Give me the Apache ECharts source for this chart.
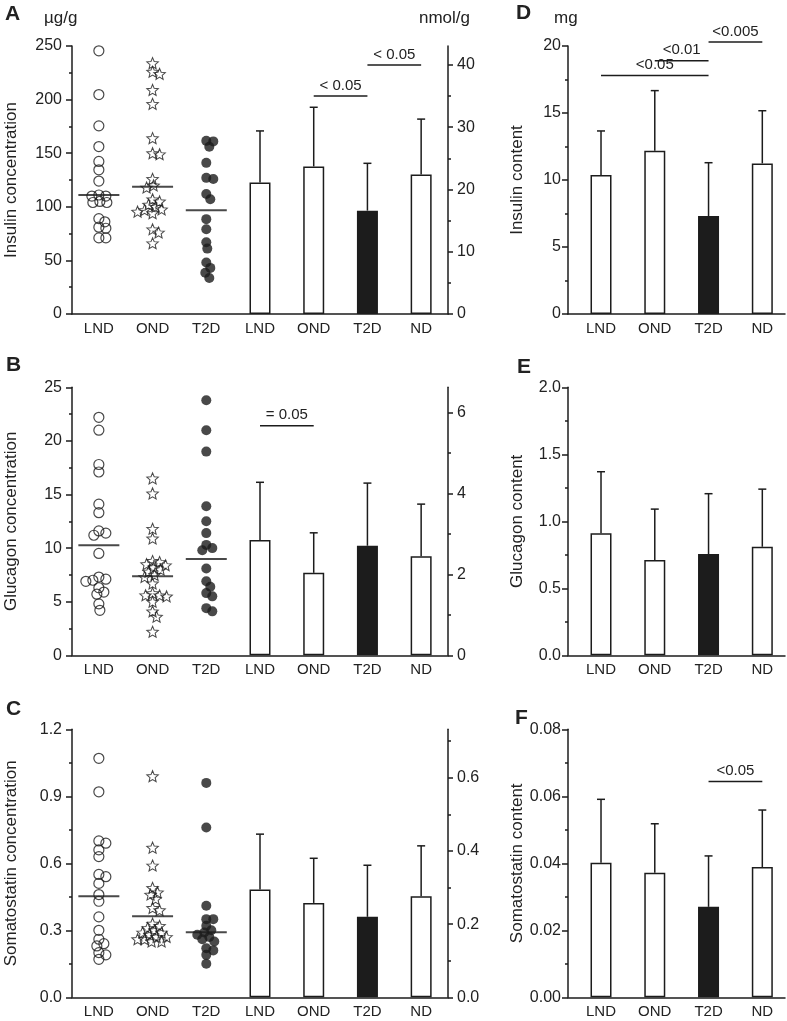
<!DOCTYPE html>
<html><head><meta charset="utf-8">
<script src="https://cdn.jsdelivr.net/npm/echarts@6/dist/echarts.min.js"></script>
<style>html,body{margin:0;padding:0;background:#fff}#c{width:787px;height:1021px}</style>
</head><body><div id="c"></div>
<script>
// ================= DATA =================
const scatterGroups = ['LND', 'OND', 'T2D'];
const barGroups = ['LND', 'OND', 'T2D', 'ND'];

// Panel A: insulin concentration, individual donors (µg/g)
const insConcLND = [245.5, 204.7, 175.5, 156.2, 142.3, 134.5, 124, 111, 110, 110, 105, 104, 104, 89, 86, 81, 80, 71, 71];
const insConcOND = [234, 226, 224, 209, 196, 164, 150, 149, 126, 120, 118, 107, 105, 102, 100, 97.6, 97, 95.5, 94, 79, 76, 66];
const insConcT2D = [161.5, 161, 156, 141, 127, 126, 112, 107, 88.5, 79, 67, 61, 48, 43, 38.5, 33.5];
const insConcLines = [111, 118.8, 96.7];
// Panel A bars (nmol/g): mean and SD
const insConcBarMean = [21.1, 23.7, 16.6, 22.4];
const insConcBarSD = [8.3, 9.5, 7.6, 8.9];
const insConcSig = [[4, 5, 35.0], [5, 6, 40.0]];
const insConcSigText = ['< 0.05', '< 0.05'];
const insConcLeftTicks = [0, 50, 100, 150, 200, 250];
const insConcRightTicks = [0, 10, 20, 30, 40];

// Panel B: glucagon concentration (µg/g)
const gluConcLND = [22.2, 21.0, 17.8, 17.1, 14.1, 13.3, 11.6, 11.4, 11.2, 9.5, 7.3, 7.1, 7.0, 6.9, 6.3, 5.9, 5.7, 4.8, 4.2];
const gluConcOND = [16.5, 15.1, 11.8, 10.9, 8.8, 8.7, 8.5, 8.4, 8.2, 8.0, 7.8, 7.5, 7.3, 6.7, 5.8, 5.6, 5.6, 5.5, 5.0, 4.1, 3.6, 2.2];
const gluConcT2D = [23.8, 21.0, 19.0, 13.9, 12.5, 11.4, 10.3, 10.0, 9.8, 8.1, 6.9, 6.4, 5.8, 5.5, 4.4, 4.1];
const gluConcLines = [10.26, 7.37, 8.99];
const gluConcBarMean = [2.85, 2.04, 2.71, 2.45];
const gluConcBarSD = [1.43, 0.99, 1.55, 1.29];
const gluConcSig = [[3, 4, 5.68]];
const gluConcSigText = ['= 0.05'];
const gluConcLeftTicks = [0, 5, 10, 15, 20, 25];
const gluConcRightTicks = [0, 2, 4, 6];

// Panel C: somatostatin concentration (µg/g)
const somConcLND = [1.07, 0.92, 0.70, 0.69, 0.66, 0.63, 0.55, 0.54, 0.51, 0.46, 0.43, 0.36, 0.30, 0.26, 0.24, 0.23, 0.20, 0.19, 0.17];
const somConcOND = [0.99, 0.67, 0.59, 0.49, 0.47, 0.46, 0.44, 0.40, 0.39, 0.33, 0.32, 0.31, 0.30, 0.29, 0.29, 0.28, 0.27, 0.27, 0.26, 0.26, 0.25, 0.25];
const somConcT2D = [0.96, 0.76, 0.41, 0.35, 0.35, 0.32, 0.30, 0.29, 0.28, 0.27, 0.26, 0.25, 0.22, 0.21, 0.19, 0.15];
const somConcLines = [0.452, 0.363, 0.291];
const somConcBarMean = [0.295, 0.258, 0.220, 0.276];
const somConcBarSD = [0.151, 0.122, 0.141, 0.138];
const somConcLeftTicks = [0, 0.3, 0.6, 0.9, 1.2];
const somConcRightTicks = [0, 0.2, 0.4, 0.6];

// Panel D: insulin content (mg)
const insContMean = [10.37, 12.19, 7.31, 11.24];
const insContSD = [3.29, 4.48, 3.98, 3.93];
const insContSig = [[0, 2, 17.8], [1, 2, 18.9], [2, 3, 20.3]];
const insContSigText = ['<0.05', '<0.01', '<0.005'];
const insContTicks = [0, 5, 10, 15, 20];

// Panel E: glucagon content
const gluContMean = [0.91, 0.711, 0.756, 0.81];
const gluContSD = [0.46, 0.38, 0.45, 0.43];
const gluContTicks = [0, 0.5, 1.0, 1.5, 2.0];

// Panel F: somatostatin content
const somContMean = [0.0402, 0.0372, 0.0270, 0.0389];
const somContSD = [0.0189, 0.0146, 0.0152, 0.0170];
const somContSig = [[2, 3, 0.0644]];
const somContSigText = ['<0.05'];
const somContTicks = [0, 0.02, 0.04, 0.06, 0.08];

// ================= STYLE / LAYOUT =================
const INK = '#1c1c1c';
const TXT = '#222';
const FONT = '"Liberation Sans", Arial, Helvetica, sans-serif';
const PANEL_TOPS = [46, 387.3, 729.3];
const PANEL_H = 268;
const LEFT_X = 72, LEFT_W = 376;
const RIGHT_X = 568, RIGHT_W = 217;
const allCats = scatterGroups.concat(barGroups);
const catKeys = allCats.map((c, i) => i + '_' + c);

function starPath(inner) {
  let d = '';
  for (let i = 0; i < 10; i++) {
    const r = i % 2 === 0 ? 1 : inner;
    const a = -Math.PI / 2 + i * Math.PI / 5;
    d += (i === 0 ? 'M' : 'L') + (r * Math.cos(a)).toFixed(3) + ' ' + (r * Math.sin(a)).toFixed(3) + ' ';
  }
  return 'path://' + d + 'Z';
}
const STAR = starPath(0.45);

// simple beeswarm: horizontal pixel offsets so symbols do not pile up
function swarm(values, pxPerUnit, minDist) {
  const placed = [];
  return values.map(v => {
    const y = v * pxPerUnit;
    for (let k = 0; k < 60; k++) {
      const cands = k === 0 ? [0] : [k, -k];
      for (const dx of cands) {
        if (placed.every(p => (p[0] - dx) * (p[0] - dx) + (p[1] - y) * (p[1] - y) >= minDist * minDist)) {
          placed.push([dx, y]);
          return dx;
        }
      }
    }
    return 0;
  });
}

function errRender(params, api) {
  const x = api.value(0), m = api.value(1), s = api.value(2);
  const a = api.coord([x, m]), b = api.coord([x, m + s]);
  return {
    type: 'group', children: [
      { type: 'line', shape: { x1: a[0], y1: a[1], x2: b[0], y2: b[1] }, style: { stroke: INK, lineWidth: 1.5 } },
      { type: 'line', shape: { x1: b[0] - 4, y1: b[1], x2: b[0] + 4, y2: b[1] }, style: { stroke: INK, lineWidth: 1.5 } }
    ]
  };
}
function sigRenderer(texts) {
  return function (params, api) {
    const y = api.value(2);
    const a = api.coord([api.value(0), y]), b = api.coord([api.value(1), y]);
    return {
      type: 'group', children: [
        { type: 'line', shape: { x1: a[0], y1: a[1], x2: b[0], y2: b[1] }, style: { stroke: INK, lineWidth: 1.5 } },
        { type: 'text', x: (a[0] + b[0]) / 2, y: a[1] - 3,
          style: { text: texts[params.dataIndex], fill: TXT, font: '15px ' + FONT, align: 'center', verticalAlign: 'bottom' } }
      ]
    };
  };
}

const grids = [], xAxes = [], yAxes = [], series = [];

function yAxisBase(gi, max, ticks, fmt, name, gap, margin) {
  return {
    type: 'value', gridIndex: gi, position: 'left', min: 0, max: max, interval: ticks[1] - ticks[0],
    axisLine: { show: true, onZero: false, lineStyle: { color: INK, width: 1.5 } },
    axisTick: { show: true, length: 6, lineStyle: { color: INK, width: 1.5 } },
    minorTick: { show: true, splitNumber: 2, length: 3, lineStyle: { color: INK, width: 1.5 } },
    splitLine: { show: false }, minorSplitLine: { show: false },
    axisLabel: { fontSize: 16, margin: margin, color: TXT, fontFamily: FONT, formatter: fmt },
    name: name, nameLocation: 'middle', nameGap: gap, nameRotate: 90, nameMoveOverlap: false,
    nameTextStyle: { fontSize: 17, color: TXT, fontFamily: FONT }
  };
}

function leftPanel(p, cfg) {
  grids.push({ left: LEFT_X, top: PANEL_TOPS[p], width: LEFT_W, height: PANEL_H, outerBoundsMode: 'none', containLabel: false });
  xAxes.push({
    type: 'category', gridIndex: p, data: catKeys, boundaryGap: true,
    axisLine: { show: true, onZero: false, lineStyle: { color: INK, width: 1.5 } }, axisTick: { show: false },
    axisLabel: { interval: 0, margin: 7, fontSize: 15, color: TXT, fontFamily: FONT, formatter: (v, i) => allCats[i] },
    splitLine: { show: false }
  });
  const yl = yAxes.length;
  yAxes.push(yAxisBase(p, cfg.leftMax, cfg.leftTicks, cfg.leftFmt, cfg.name, 52, 10));
  const minor = [];
  const step = cfg.rightTicks[1] - cfg.rightTicks[0];
  for (let v = step / 2; v < cfg.rightMax; v += step) minor.push(+v.toFixed(6));
  yAxes.push({
    type: 'value', gridIndex: p, position: 'right', min: 0, max: cfg.rightMax,
    axisLine: { show: true, onZero: false, lineStyle: { color: INK, width: 1.5 } },
    axisTick: { show: true, length: 5, customValues: cfg.rightTicks, lineStyle: { color: INK, width: 1.5 } },
    axisLabel: { customValues: cfg.rightTicks, fontSize: 16, margin: 9, color: TXT, fontFamily: FONT, formatter: cfg.rightFmt },
    splitLine: { show: false }
  });
  yAxes.push({
    type: 'value', gridIndex: p, position: 'right', min: 0, max: cfg.rightMax,
    axisLine: { show: false, onZero: false },
    axisTick: { show: true, length: 3, customValues: minor, lineStyle: { color: INK, width: 1.5 } },
    axisLabel: { show: false }, splitLine: { show: false }
  });
  const pxPer = PANEL_H / cfg.leftMax;
  const styles = [
    { symbol: 'circle', symbolSize: 10, itemStyle: { color: 'rgba(255,255,255,0)', borderColor: INK, borderWidth: 1.2 } },
    { symbol: STAR, symbolSize: [11.5, 11], itemStyle: { color: 'rgba(255,255,255,0)', borderColor: INK, borderWidth: 1 } },
    { symbol: 'circle', symbolSize: 10, itemStyle: { color: INK, borderWidth: 0 } }
  ];
  [cfg.lnd, cfg.ond, cfg.t2d].forEach((vals, g) => {
    const offs = swarm(vals, pxPer, 6.5);
    series.push(Object.assign({
      type: 'scatter', xAxisIndex: p, yAxisIndex: yl, silent: true, z: 4,
      data: vals.map((v, i) => ({ value: [g, v], symbolOffset: [offs[i], 0] }))
    }, styles[g]));
  });
  series.push({
    type: 'scatter', xAxisIndex: p, yAxisIndex: yl, silent: true, z: 5,
    symbol: 'rect', symbolSize: [41, 2], itemStyle: { color: INK },
    data: cfg.lines.map((v, i) => [i, v])
  });
  series.push({
    type: 'bar', xAxisIndex: p, yAxisIndex: yl + 1, barWidth: 21, silent: true, z: 2,
    itemStyle: { borderColor: INK, borderWidth: 1.5 },
    data: cfg.barMean.map((v, i) => ({ value: [i + 3, v], itemStyle: { color: barGroups[i] === 'T2D' ? INK : '#fff' } }))
  });
  series.push({
    type: 'custom', xAxisIndex: p, yAxisIndex: yl + 1, silent: true, z: 3,
    encode: { x: 0, y: 1 }, renderItem: errRender,
    data: cfg.barMean.map((v, i) => [i + 3, v, cfg.barSD[i]])
  });
  if (cfg.sig) {
    series.push({
      type: 'custom', xAxisIndex: p, yAxisIndex: yl + 1, silent: true, z: 3, clip: false,
      encode: { x: [0, 1], y: 2 }, renderItem: sigRenderer(cfg.sigText), data: cfg.sig
    });
  }
}

function rightPanel(p, cfg) {
  const gi = grids.length;
  grids.push({ left: RIGHT_X, top: PANEL_TOPS[p], width: RIGHT_W, height: PANEL_H, outerBoundsMode: 'none', containLabel: false });
  const xi = xAxes.length;
  xAxes.push({
    type: 'value', gridIndex: gi, min: -0.614, max: 3.422,
    axisLine: { show: true, onZero: false, lineStyle: { color: INK, width: 1.5 } }, axisTick: { show: false },
    axisLabel: { customValues: [0, 1, 2, 3], margin: 7, fontSize: 15, color: TXT, fontFamily: FONT,
      formatter: v => barGroups[Math.round(v)] || '' },
    splitLine: { show: false }
  });
  const yi = yAxes.length;
  const t = cfg.ticks;
  yAxes.push(yAxisBase(gi, t[t.length - 1], t, cfg.fmt, cfg.name, 42, 7));
  series.push({
    type: 'bar', xAxisIndex: xi, yAxisIndex: yi, barWidth: 21, silent: true, z: 2,
    itemStyle: { borderColor: INK, borderWidth: 1.5 },
    data: cfg.mean.map((v, i) => ({ value: [i, v], itemStyle: { color: barGroups[i] === 'T2D' ? INK : '#fff' } }))
  });
  series.push({
    type: 'custom', xAxisIndex: xi, yAxisIndex: yi, silent: true, z: 3,
    encode: { x: 0, y: 1 }, renderItem: errRender,
    data: cfg.mean.map((v, i) => [i, v, cfg.sd[i]])
  });
  if (cfg.sig) {
    series.push({
      type: 'custom', xAxisIndex: xi, yAxisIndex: yi, silent: true, z: 3, clip: false,
      encode: { x: [0, 1], y: 2 }, renderItem: sigRenderer(cfg.sigText), data: cfg.sig
    });
  }
}

leftPanel(0, {
  lnd: insConcLND, ond: insConcOND, t2d: insConcT2D, lines: insConcLines,
  barMean: insConcBarMean, barSD: insConcBarSD, sig: insConcSig, sigText: insConcSigText,
  leftMax: 250, leftTicks: insConcLeftTicks, leftFmt: v => String(v),
  rightMax: 43.04, rightTicks: insConcRightTicks, rightFmt: v => String(v),
  name: 'Insulin concentration'
});
leftPanel(1, {
  lnd: gluConcLND, ond: gluConcOND, t2d: gluConcT2D, lines: gluConcLines,
  barMean: gluConcBarMean, barSD: gluConcBarSD, sig: gluConcSig, sigText: gluConcSigText,
  leftMax: 25, leftTicks: gluConcLeftTicks, leftFmt: v => String(v),
  rightMax: 6.63, rightTicks: gluConcRightTicks, rightFmt: v => String(v),
  name: 'Glucagon concentration'
});
leftPanel(2, {
  lnd: somConcLND, ond: somConcOND, t2d: somConcT2D, lines: somConcLines,
  barMean: somConcBarMean, barSD: somConcBarSD,
  leftMax: 1.2, leftTicks: somConcLeftTicks, leftFmt: v => v.toFixed(1),
  rightMax: 0.7326, rightTicks: somConcRightTicks, rightFmt: v => v.toFixed(1),
  name: 'Somatostatin concentration'
});
rightPanel(0, { mean: insContMean, sd: insContSD, sig: insContSig, sigText: insContSigText, ticks: insContTicks, fmt: v => String(v), name: 'Insulin content' });
rightPanel(1, { mean: gluContMean, sd: gluContSD, ticks: gluContTicks, fmt: v => v.toFixed(1), name: 'Glucagon content' });
rightPanel(2, { mean: somContMean, sd: somContSD, sig: somContSig, sigText: somContSigText, ticks: somContTicks, fmt: v => v.toFixed(2), name: 'Somatostatin content' });

function txt(t, x, y, size, bold) {
  return { type: 'text', x: x, y: y, silent: true,
    style: { text: t, fill: TXT, font: (bold ? 'bold ' : '') + size + 'px ' + FONT, align: 'left', verticalAlign: 'middle' } };
}
const graphics = [
  txt('A', 5, 14.5, 21, true), txt('µg/g', 44, 18, 17), txt('nmol/g', 419, 18, 17),
  txt('B', 6, 365.5, 21, true), txt('C', 6, 709.5, 21, true),
  txt('D', 516, 13.5, 21, true), txt('mg', 554, 18, 17),
  txt('E', 517, 367.5, 21, true), txt('F', 515, 718, 21, true)
];

const chart = echarts.init(document.getElementById('c'), null, { renderer: 'canvas' });
chart.setOption({
  animation: false,
  backgroundColor: '#fff',
  textStyle: { fontFamily: FONT },
  grid: grids, xAxis: xAxes, yAxis: yAxes, series: series,
  graphic: graphics
});
</script></body></html>
